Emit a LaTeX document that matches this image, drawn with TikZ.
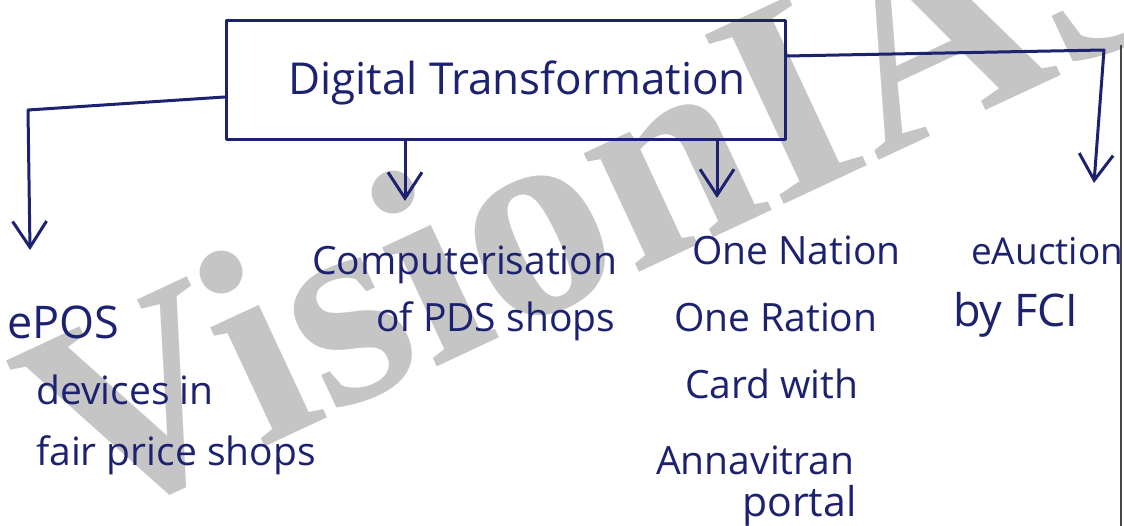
\documentclass[tikz,border=0pt]{standalone}
\usepackage{fontspec}
\setmainfont{Open Sans}
\newfontfamily\markfont{Liberation Serif}
\usetikzlibrary{arrows.meta,calc}
\definecolor{ink}{RGB}{28,34,112}
\definecolor{wm}{RGB}{197,197,197}
\definecolor{paperedge}{RGB}{70,70,80}
\begin{document}
\begin{tikzpicture}[x=1pt,y=-1pt,
  inkline/.style={draw=ink,line width=3pt,line cap=round,line join=round},
  arr/.style={inkline,-{Straight Barb[length=26pt,width=34pt]}},
  item/.style={anchor=base west,inner sep=0pt,text=ink,font=\fontsize{39}{42}\selectfont},
  big/.style={font=\fontsize{45}{48}\selectfont},
  ]
\useasboundingbox (0,0) rectangle (1124,526);
\fill[white] (0,0) rectangle (1124,526);

% watermark in the background
\node[anchor=base west,inner sep=0pt,rotate=25,text=wm,
      font=\markfont\bfseries\fontsize{285}{300}\selectfont] (mark) at (82,532) {VisionIAS};

% page edge
\draw[paperedge,line width=1.4pt] (1121,45) -- (1121,526);

% central box and title
\node[inkline,minimum width=559pt,minimum height=119pt,inner sep=0pt] (box) at (505.5,80) {};
\node[anchor=base,inner sep=0pt,text=ink,font=\fontsize{44}{48}\selectfont] (title) at (517,95) {Digital Transformation};

% branches
\node[item,big] (epos1) at (7,339) {ePOS};
\node[item] (epos2) at (36,404) {devices in};
\node[item] (epos3) at (36,465) {fair price shops};

\node[item] (comp1) at (312,275) {Computerisation};
\node[item] (comp2) at (376,332) {of PDS shops};

\node[item] (onor1) at (692,265) {One Nation};
\node[item] (onor2) at (674,332) {One Ration};
\node[item] (onor3) at (685,398) {Card with};
\node[item] (onor4) at (656,474) {Annavitran};
\node[item,font=\fontsize{41}{44}\selectfont] (onor5) at (742,516) {portal};

\node[item,font=\fontsize{37}{40}\selectfont] (auct1) at (971,265) {eAuction};
\node[item,big] (auct2) at (953,327) {by FCI};

% connectors
\coordinate (c1) at (28,110);
\coordinate (t1) at (30,250);
\coordinate (t2) at (405,201);
\coordinate (t3) at (717,198);
\coordinate (c4) at (1104,50);
\coordinate (t4) at (1094,183);

\draw[arr] (box.west |- 0,97) -- (c1) -- (t1);
\draw[arr] (box.south -| t2) -- (t2);
\draw[arr] (box.south -| t3) -- (t3);
\draw[arr] (box.east |- 0,56) -- (c4) -- (t4);
\end{tikzpicture}
\end{document}
